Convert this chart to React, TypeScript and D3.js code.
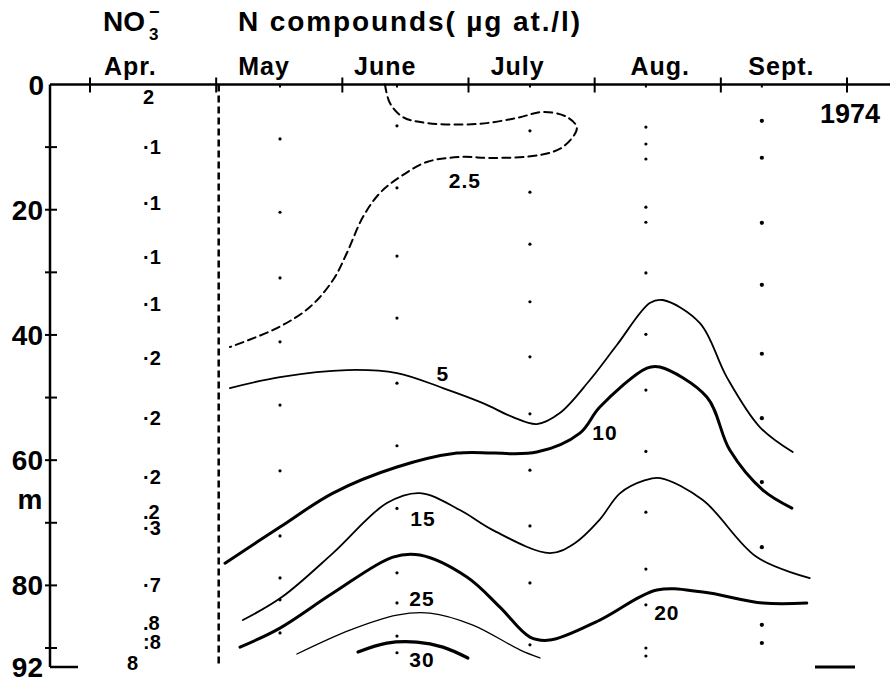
import React from 'react';
import * as d3 from 'd3';

const W = 890;
const H = 682;

// ---- axes data ----
const MONTH_TICKS = [4, 5, 6, 7, 8, 9, 10];
const MONTH_NAMES = ['Apr.', 'May', 'June', 'July', 'Aug.', 'Sept.'];
const MONTH_NAME_AT = [4.32, 5.38, 6.34, 7.39, 8.52, 9.48];
const DEPTH_MINOR = [10, 20, 30, 40, 50, 60, 70, 80, 90];
const DEPTH_LABELED = [0, 20, 40, 60, 80];
const DEPTH_BOTTOM = 92;
const DIVIDER_DATE = 5.02;

// ---- April NO3- column ----
const APRIL_DATES = [4.46, 4.46, 4.46, 4.46, 4.46, 4.46, 4.46, 4.46, 4.46, 4.46, 4.46, 4.46, 4.46, 4.333];
const APRIL_DEPTHS = [2, 10, 18.9, 27.6, 35.1, 43.7, 53.3, 62.7, 68.3, 70.9, 79.9, 86, 89, 91.6];
const APRIL_NO3 = ['2', '·1', '·1', '·1', '·1', '·2', '·2', '·2', '.2', '·3', '·7', '.8', ':8', '8'];

// ---- sampling stations ----
const SAMPLE_DATES = [5.506, 6.433, 7.487, 8.406, 9.325];
const SAMPLE_DEPTHS = [
  [8.7, 20.4, 30.9, 41.1, 51.2, 61.7, 72.1, 78.8, 82.3, 87.6],
  [6.6, 16.5, 27.4, 37.3, 47.7, 57.7, 67.7, 78.0, 82.8, 88.1, 90.5],
  [7.4, 17.2, 25.5, 34.7, 43.5, 52.6, 61.6, 70.5, 79.6, 89.5],
  [6.8, 9.5, 11.9, 19.6, 22.0, 30.1, 39.9, 48.8, 58.6, 68.3, 77.4, 83.1, 90.0, 90.84],
  [5.8, 11.7, 22.1, 32.0, 43.0, 53.3, 63.5, 73.9, 86.3, 89.2],
];

// ---- isolines [month, depth] ----
const ISO_2_5: [number, number][] = [
  [6.338, 0], [6.377, 2.96], [6.48, 5.19], [6.67, 6.15], [7.067, 6.31], [7.383, 5.35],
  [7.59, 4.39], [7.78, 5.19], [7.859, 6.95], [7.748, 9.98], [7.566, 11.26], [7.193, 11.74],
  [6.932, 11.58], [6.67, 12.38], [6.456, 14.78], [6.298, 17.33], [6.163, 21.17],
  [6.036, 26.92], [5.926, 31.23], [5.743, 35.54], [5.482, 38.9], [5.109, 41.93],
];
const ISO_5: [number, number][] = [
  [5.109, 48.48], [5.506, 46.73], [6.036, 45.61], [6.433, 46.09], [6.797, 48.48],
  [7.114, 50.88], [7.352, 53.12], [7.542, 54.23], [7.724, 52.48], [7.962, 47.2],
  [8.176, 41.61], [8.437, 34.9], [8.54, 34.42], [8.834, 38.1], [9.047, 46.73],
  [9.309, 54.71], [9.57, 58.71],
];
const ISO_10: [number, number][] = [
  [5.07, 76.45], [5.506, 70.69], [5.926, 65.26], [6.433, 61.1], [6.908, 58.87],
  [7.542, 58.71], [7.883, 55.67], [8.041, 51.52], [8.414, 45.29], [8.517, 45.13],
  [8.889, 49.92], [9.071, 58.39], [9.333, 64.78], [9.563, 67.65],
];
const ISO_15: [number, number][] = [
  [5.212, 85.54], [5.521, 81.87], [5.926, 74.84], [6.353, 66.85], [6.615, 65.26],
  [6.932, 67.97], [7.193, 71.17], [7.645, 74.84], [7.84, 73.3], [8.04, 69.5],
  [8.2, 65.3], [8.4, 63.2], [8.52, 62.86], [8.857, 66.37], [9.285, 75.48], [9.705, 78.83],
];
const ISO_20: [number, number][] = [
  [5.189, 89.86], [5.506, 86.82], [5.926, 81.23], [6.401, 75.48], [6.615, 75.16],
  [6.987, 78.67], [7.249, 83.47], [7.487, 88.26], [7.645, 88.74], [8.041, 85.54],
  [8.493, 80.75], [8.857, 81.07], [9.333, 82.83], [9.681, 82.83],
];
const ISO_25: [number, number][] = [
  [5.64, 90.63], [6.06, 87.14], [6.433, 84.74], [6.694, 84.42], [7.035, 86.34],
  [7.407, 90.2], [7.566, 91.05],
];
const ISO_30: [number, number][] = [
  [6.124, 90.42], [6.353, 89.22], [6.591, 89.06], [6.797, 89.86], [6.995, 91.05],
];

const ISO_LABELS = ['2.5', '5', '10', '15', '20', '25', '30'];
const ISO_LABEL_DATES = [6.971, 6.797, 8.081, 6.639, 8.572, 6.631, 6.631];
const ISO_LABEL_DEPTHS = [15.26, 46.09, 55.51, 69.25, 84.26, 82.03, 91.26];

const FONT = '"Liberation Sans", Arial, sans-serif';

export default function App() {
  const x = d3.scaleLinear().domain([4, 10]).range([90, 847]);
  const y = d3.scaleLinear().domain([0, 90, 92]).range([84.5, 648, 667]);
  const line = d3
    .line<[number, number]>()
    .x((p) => x(p[0]))
    .y((p) => y(p[1]))
    .curve(d3.curveCatmullRom.alpha(0.5));

  const axisLeft = 50;
  const axisTop = y(0);
  const axisBottom = y(DEPTH_BOTTOM);

  const isolines = [
    { pts: ISO_2_5, w: 2, dash: '8 5' },
    { pts: ISO_5, w: 1.8, dash: undefined },
    { pts: ISO_10, w: 3, dash: undefined },
    { pts: ISO_15, w: 1.8, dash: undefined },
    { pts: ISO_20, w: 3, dash: undefined },
    { pts: ISO_25, w: 1.3, dash: undefined },
    { pts: ISO_30, w: 3.2, dash: undefined },
  ];

  return (
    <svg
      width={W}
      height={H}
      viewBox={`0 0 ${W} ${H}`}
      style={{ position: 'absolute', left: 0, top: 0, background: '#fff' }}
      fontFamily={FONT}
      fontWeight="bold"
    >
      <rect width={W} height={H} fill="#fff" />

      {/* header */}
      <text x={103} y={31} fontSize={28}>NO</text>
      <text x={149} y={40} fontSize={17}>3</text>
      <text x={149} y={18} fontSize={18}>−</text>
      <text x={238} y={31} fontSize={28} textLength={342} lengthAdjust="spacing">
        N compounds( µg at./l)
      </text>

      {/* month names */}
      {MONTH_NAMES.map((m, i) => (
        <text key={m} x={x(MONTH_NAME_AT[i])} y={75} fontSize={25} textAnchor="middle" letterSpacing={1}>
          {m}
        </text>
      ))}

      {/* top axis */}
      <line x1={axisLeft} x2={W} y1={axisTop} y2={axisTop} stroke="#000" strokeWidth={2.5} />
      {MONTH_TICKS.map((m) => (
        <line key={m} x1={x(m)} x2={x(m)} y1={axisTop - 7} y2={axisTop + 8} stroke="#000" strokeWidth={2} />
      ))}
      {SAMPLE_DATES.map((m) => (
        <line key={'s' + m} x1={x(m)} x2={x(m)} y1={axisTop} y2={axisTop + 3} stroke="#000" strokeWidth={2} />
      ))}

      {/* left axis */}
      <line x1={axisLeft} x2={axisLeft} y1={axisTop} y2={axisBottom} stroke="#000" strokeWidth={2.5} />
      <line x1={axisLeft} x2={78} y1={axisBottom} y2={axisBottom} stroke="#000" strokeWidth={2.5} />
      {DEPTH_MINOR.map((d) => (
        <line key={d} x1={axisLeft - 5} x2={axisLeft + 7} y1={y(d)} y2={y(d)} stroke="#000" strokeWidth={2} />
      ))}
      {DEPTH_LABELED.map((d) => (
        <text key={d} x={d === 0 ? 44 : 43} y={y(d) + 10} fontSize={28} textAnchor="end">
          {d}
        </text>
      ))}
      <text x={43} y={axisBottom + 10} fontSize={28} textAnchor="end">{DEPTH_BOTTOM}</text>
      <text x={30} y={y(67.8)} fontSize={28} textAnchor="middle">m</text>

      {/* year */}
      <text x={880} y={123} fontSize={27} textAnchor="end">1974</text>

      {/* divider */}
      <line
        x1={x(DIVIDER_DATE)}
        x2={x(DIVIDER_DATE)}
        y1={axisTop}
        y2={axisBottom}
        stroke="#000"
        strokeWidth={2.5}
        strokeDasharray="7 4"
      />

      {/* April NO3- values */}
      {APRIL_NO3.map((t, i) => (
        <text key={i} x={x(APRIL_DATES[i]) - 5} y={y(APRIL_DEPTHS[i]) + 7} fontSize={20}>
          {t}
        </text>
      ))}

      {/* sample dots */}
      {SAMPLE_DATES.map((m, i) =>
        SAMPLE_DEPTHS[i].map((d, j) => (
          <circle key={i + '-' + j} cx={x(m)} cy={y(d)} r={i === 4 ? 2.1 : 1.6} fill="#000" />
        ))
      )}

      {/* isolines */}
      {isolines.map((c, i) => (
        <path
          key={i}
          d={line(c.pts) || ''}
          fill="none"
          stroke="#000"
          strokeWidth={c.w}
          strokeDasharray={c.dash}
          strokeLinecap="round"
        />
      ))}

      {/* isoline labels */}
      {ISO_LABELS.map((t, i) => (
        <text
          key={t}
          x={x(ISO_LABEL_DATES[i])}
          y={y(ISO_LABEL_DEPTHS[i]) + 7.5}
          fontSize={21}
          textAnchor="middle"
          letterSpacing={1}
        >
          {t}
        </text>
      ))}

      {/* short bar bottom right */}
      <line x1={815} x2={855} y1={y(DEPTH_BOTTOM)} y2={y(DEPTH_BOTTOM)} stroke="#000" strokeWidth={3} />
    </svg>
  );
}
